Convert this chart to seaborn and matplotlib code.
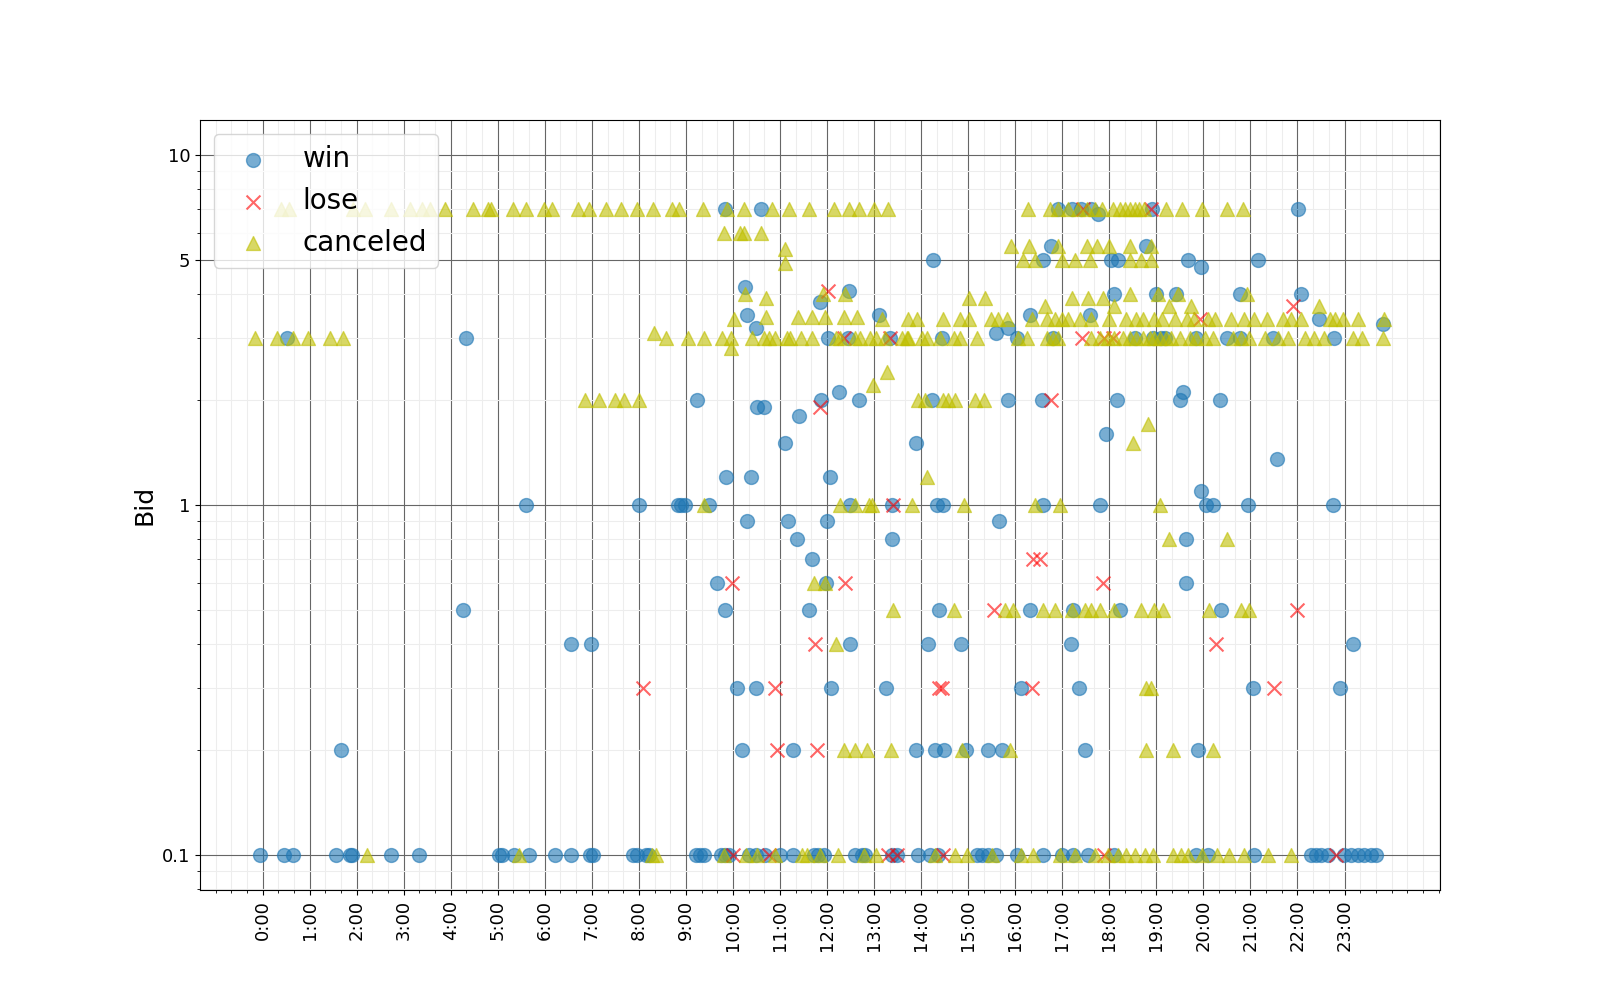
import numpy as np
import pandas as pd
import matplotlib
matplotlib.use("Agg")
import matplotlib.pyplot as plt
import seaborn as sns
from matplotlib.ticker import MultipleLocator, LogLocator, NullFormatter

# (hour of day, bid)
win = [
    (0.52, 3), (-0.05, 0.1), (0.45, 0.1), (0.64, 0.1),
    (1.67, 0.2), (1.57, 0.1), (1.85, 0.1), (1.91, 0.1), (2.72, 0.1), (3.33, 0.1),
    (4.33, 3), (5.59, 1), (4.27, 0.5), (5.03, 0.1), (5.1, 0.1), (5.35, 0.1), (5.67, 0.1),
    (8.0, 1), (6.55, 0.4), (6.98, 0.4), (6.21, 0.1), (6.55, 0.1), (6.96, 0.1), (7.02, 0.1),
    (7.88, 0.1), (7.95, 0.1), (8.15, 0.1), (8.22, 0.1),
    (9.83, 7), (10.59, 7), (10.26, 4.2), (10.29, 3.5), (10.5, 3.2), (9.23, 2), (10.52, 1.9),
    (10.66, 1.9), (9.86, 1.2), (10.38, 1.2), (8.84, 1), (8.9, 1), (8.99, 1), (9.5, 1),
    (10.3, 0.9), (9.65, 0.6), (9.82, 0.5), (10.08, 0.3), (10.48, 0.3), (10.2, 0.2),
    (9.21, 0.1), (9.3, 0.1), (9.38, 0.1), (9.74, 0.1), (9.82, 0.1), (9.91, 0.1),
    (10.34, 0.1), (10.48, 0.1), (10.69, 0.1),
    (12.46, 4.1), (11.84, 3.8), (13.1, 3.5), (12.02, 3), (12.45, 3), (12.26, 2.1),
    (12.67, 2), (11.88, 2), (11.4, 1.8), (11.11, 1.5), (12.06, 1.2), (12.48, 1),
    (11.17, 0.9), (12.0, 0.9), (11.37, 0.8), (11.68, 0.7), (11.98, 0.6), (11.61, 0.5),
    (12.48, 0.4), (12.08, 0.3), (11.27, 0.2),
    (11.0, 0.1), (11.27, 0.1), (11.72, 0.1), (11.81, 0.1), (11.93, 0.1), (12.6, 0.1),
    (12.74, 0.1), (12.81, 0.1),
    (14.26, 5), (13.34, 3), (14.44, 3), (14.23, 2), (13.89, 1.5),
    (13.37, 1), (14.33, 1), (14.47, 1), (13.37, 0.8), (14.39, 0.5), (14.14, 0.4),
    (14.84, 0.4), (13.25, 0.3), (13.89, 0.2), (14.3, 0.2), (14.49, 0.2), (14.95, 0.2),
    (15.42, 0.2), (13.37, 0.1), (13.48, 0.1), (13.94, 0.1), (14.19, 0.1), (14.35, 0.1),
    (15.18, 0.1), (15.29, 0.1), (15.43, 0.1),
    (16.9, 7), (17.2, 7), (17.4, 7), (17.62, 7), (17.77, 6.8), (16.77, 5.5), (16.6, 5),
    (16.31, 3.5), (17.59, 3.5), (15.6, 3.1), (15.84, 3.2), (16.03, 3), (16.81, 3),
    (15.84, 2), (16.56, 2), (17.93, 1.6), (16.6, 1), (17.8, 1), (15.65, 0.9),
    (16.31, 0.5), (17.23, 0.5), (17.18, 0.4), (16.12, 0.3), (17.35, 0.3),
    (15.71, 0.2), (17.48, 0.2), (15.6, 0.1), (16.03, 0.1), (16.6, 0.1), (16.99, 0.1),
    (17.23, 0.1), (17.55, 0.1),
    (18.91, 7), (18.79, 5.5), (18.04, 5), (18.18, 5), (19.67, 5), (19.94, 4.8),
    (18.11, 4), (19.0, 4), (19.41, 4), (18.54, 3), (18.93, 3), (19.1, 3), (19.18, 3),
    (19.85, 3), (18.17, 2), (19.57, 2.1), (19.5, 2), (20.35, 2), (19.94, 1.1),
    (20.06, 1), (20.2, 1), (19.64, 0.8), (19.62, 0.6), (18.22, 0.5), (20.38, 0.5),
    (19.89, 0.2), (18.11, 0.1), (19.85, 0.1), (20.1, 0.1),
    (22.01, 7), (21.16, 5), (20.77, 4), (22.08, 4), (22.45, 3.4), (20.5, 3), (20.77, 3),
    (21.47, 3), (22.78, 3), (21.57, 1.35), (20.94, 1), (22.75, 1), (21.05, 0.3),
    (21.08, 0.1), (22.29, 0.1), (22.4, 0.1), (22.5, 0.1), (22.64, 0.1),
    (23.82, 3.3), (23.19, 0.4), (22.91, 0.3), (22.99, 0.1), (23.13, 0.1), (23.28, 0.1),
    (23.42, 0.1), (23.56, 0.1), (23.67, 0.1),
]

lose = [
    (8.09, 0.3), (9.97, 0.6), (9.99, 0.1),
    (12.03, 4.1), (12.37, 3), (11.86, 1.9), (12.39, 0.6), (11.74, 0.4), (10.9, 0.3),
    (10.93, 0.2), (11.79, 0.2), (10.76, 0.1),
    (13.34, 3), (13.41, 1), (14.38, 0.3), (14.45, 0.3), (13.3, 0.1), (13.48, 0.1),
    (14.47, 0.1),
    (17.45, 7), (17.42, 3), (17.88, 3), (18.08, 3), (16.77, 2), (16.38, 0.7), (16.52, 0.7),
    (17.86, 0.6), (15.55, 0.5), (16.35, 0.3), (17.88, 0.1),
    (18.89, 7), (19.92, 3.4), (20.27, 0.4),
    (21.9, 3.7), (21.99, 0.5), (21.5, 0.3), (22.82, 0.1),
]

canceled = [
    (-0.16, 3), (0.31, 3), (0.65, 3), (0.97, 3), (1.43, 3), (1.72, 3),
    (0.4, 7), (0.57, 7), (1.93, 7), (2.18, 7), (2.74, 7), (3.13, 7), (3.38, 7), (3.56, 7),
    (3.88, 7), (2.23, 0.1),
    (4.47, 7), (4.8, 7), (4.86, 7), (5.33, 7), (5.6, 7), (5.46, 0.1),
    (5.99, 7), (6.16, 7), (6.7, 7), (6.93, 7), (7.3, 7), (7.63, 7), (7.97, 7), (8.3, 7),
    (6.85, 2), (7.16, 2), (7.49, 2), (7.69, 2), (8.0, 2), (8.33, 3.1), (8.28, 0.1), (8.36, 0.1),
    (8.71, 7), (8.85, 7), (9.37, 7), (9.88, 7), (10.23, 7),
    (9.81, 6), (10.14, 6), (10.23, 6), (10.59, 6),
    (10.26, 4.0), (10.7, 3.9), (10.02, 3.4), (10.7, 3.45),
    (8.57, 3), (9.05, 3), (9.38, 3), (9.76, 3), (9.95, 3), (10.4, 3), (10.66, 3),
    (9.95, 2.8), (9.38, 1), (9.81, 0.1), (10.27, 0.1), (10.52, 0.1),
    (10.84, 7), (11.2, 7), (11.62, 7), (12.14, 7), (12.46, 7), (12.67, 7), (12.99, 7),
    (11.11, 5.4), (11.11, 4.9), (11.91, 4.0), (12.39, 4.0),
    (11.38, 3.45), (11.68, 3.45), (11.95, 3.45), (12.37, 3.45), (12.64, 3.45),
    (10.76, 3), (10.9, 3), (11.15, 3), (11.22, 3), (11.45, 3), (11.67, 3), (12.18, 3),
    (12.28, 3), (12.6, 3), (12.71, 3), (12.92, 3), (13.03, 3),
    (12.97, 2.2), (12.28, 1), (12.6, 1), (12.89, 1), (12.96, 1),
    (11.72, 0.6), (11.95, 0.6), (12.18, 0.4), (12.37, 0.2), (12.59, 0.2), (12.85, 0.2),
    (10.9, 0.1), (11.47, 0.1), (11.57, 0.1), (11.86, 0.1), (12.23, 0.1), (12.78, 0.1),
    (13.03, 0.1),
    (13.3, 7), (15.01, 3.9), (15.35, 3.9),
    (13.16, 3.4), (13.73, 3.4), (13.91, 3.4), (14.47, 3.4), (14.83, 3.4), (15.02, 3.4),
    (15.48, 3.4),
    (13.23, 3), (13.59, 3), (13.69, 3), (13.73, 3), (14.01, 3), (14.12, 3), (14.4, 3),
    (14.69, 3), (14.83, 3), (15.18, 3),
    (13.27, 2.4), (13.94, 2), (14.08, 2), (14.47, 2), (14.58, 2), (14.72, 2), (15.15, 2),
    (15.33, 2), (14.12, 1.2), (13.8, 1), (14.92, 1), (13.41, 0.5), (14.69, 0.5),
    (13.35, 0.2), (14.86, 0.2), (14.3, 0.1), (14.71, 0.1), (14.97, 0.1),
    (16.28, 7), (16.74, 7), (16.91, 7), (17.13, 7), (17.34, 7), (17.52, 7), (17.69, 7),
    (17.84, 7),
    (15.92, 5.5), (16.29, 5.5), (16.91, 5.5), (17.52, 5.5), (17.73, 5.5),
    (16.17, 5), (16.42, 5), (16.99, 5), (17.27, 5), (17.59, 5),
    (17.2, 3.9), (17.55, 3.9), (17.87, 3.9), (16.63, 3.7),
    (15.64, 3.4), (15.82, 3.4), (16.35, 3.4), (16.67, 3.4), (16.84, 3.4),
    (16.99, 3.4), (17.13, 3.4), (17.38, 3.4), (17.62, 3.4),
    (16.06, 3), (16.24, 3), (16.67, 3), (16.81, 3), (16.91, 3), (17.62, 3), (17.8, 3),
    (16.42, 1), (16.95, 1),
    (15.78, 0.5), (15.96, 0.5), (16.6, 0.5), (16.84, 0.5), (17.2, 0.5), (17.48, 0.5),
    (17.62, 0.5), (17.8, 0.5), (15.89, 0.2),
    (15.5, 0.1), (16.13, 0.1), (16.38, 0.1), (16.95, 0.1), (17.27, 0.1), (17.69, 0.1),
    (18.08, 7), (18.22, 7), (18.33, 7), (18.43, 7), (18.54, 7), (18.64, 7), (18.74, 7),
    (19.21, 7), (19.55, 7), (19.97, 7),
    (18.0, 5.5), (18.45, 5.5), (18.89, 5.5), (18.43, 5), (18.68, 5), (18.89, 5),
    (18.43, 4), (19.03, 4), (19.45, 4), (18.11, 3.7), (19.26, 3.7), (19.73, 3.7),
    (18.0, 3.4), (18.36, 3.4), (18.57, 3.4), (18.72, 3.4), (18.96, 3.4), (19.11, 3.4),
    (19.39, 3.4), (19.66, 3.4), (19.81, 3.4), (20.1, 3.4), (20.24, 3.4),
    (17.97, 3), (18.11, 3), (18.29, 3), (18.43, 3), (18.57, 3), (18.72, 3), (18.86, 3),
    (18.96, 3), (19.07, 3), (19.21, 3), (19.32, 3), (19.5, 3), (19.71, 3), (19.85, 3),
    (20.03, 3), (20.2, 3),
    (18.82, 1.7), (18.5, 1.5), (19.07, 1), (19.26, 0.8),
    (18.11, 0.5), (18.68, 0.5), (18.96, 0.5), (19.14, 0.5), (20.13, 0.5),
    (18.79, 0.3), (18.88, 0.3), (18.77, 0.2), (19.35, 0.2), (20.2, 0.2),
    (17.97, 0.1), (18.18, 0.1), (18.36, 0.1), (18.54, 0.1), (18.75, 0.1), (18.93, 0.1),
    (19.35, 0.1), (19.53, 0.1), (19.67, 0.1), (19.96, 0.1), (20.28, 0.1),
    (20.5, 7), (20.84, 7), (20.93, 4.0), (22.45, 3.7),
    (20.59, 3.4), (20.87, 3.4), (21.08, 3.4), (21.35, 3.4), (21.69, 3.4), (21.86, 3.4),
    (22.08, 3.4), (22.7, 3.4),
    (20.62, 3), (20.8, 3), (20.98, 3), (21.3, 3), (21.58, 3), (21.79, 3), (22.15, 3),
    (22.36, 3), (22.57, 3),
    (20.5, 0.8), (20.8, 0.5), (20.98, 0.5),
    (20.55, 0.1), (20.87, 0.1), (21.37, 0.1), (21.86, 0.1),
    (22.8, 3.4), (22.96, 3.4), (23.28, 3.4), (23.84, 3.4), (23.17, 3), (23.38, 3), (23.81, 3),
]

hour_labels = [f"{h}:00" for h in range(24)]
bid_ticks = [0.1, 1, 5, 10]
bid_labels = ["0.1", "1", "5", "10"]

df_win = pd.DataFrame(win, columns=["hour", "bid"])
df_lose = pd.DataFrame(lose, columns=["hour", "bid"])
df_cancel = pd.DataFrame(canceled, columns=["hour", "bid"])

fig, ax = plt.subplots(figsize=(16, 10), dpi=100)

sns.scatterplot(data=df_win, x="hour", y="bid", ax=ax, color="tab:blue", marker="o",
                s=100, alpha=0.6, edgecolor="face", linewidth=1, label="win")
sns.scatterplot(data=df_lose, x="hour", y="bid", ax=ax, color="red", marker="x",
                s=100, alpha=0.6, linewidth=1.5, label="lose")
sns.scatterplot(data=df_cancel, x="hour", y="bid", ax=ax, color="y", marker="^",
                s=100, alpha=0.6, edgecolor="face", linewidth=1, label="canceled")

ax.set_yscale("log")
ax.set_ylim(10 ** -1.1, 10 ** 1.1)
ax.set_xlim(-1.33, 25.03)

ax.set_xticks(range(24))
ax.set_xticklabels(hour_labels, rotation=90, fontsize=13)
ax.xaxis.set_minor_locator(MultipleLocator(1 / 3))

ax.set_yticks(bid_ticks)
ax.set_yticklabels(bid_labels, fontsize=13)
ax.yaxis.set_minor_locator(LogLocator(base=10, subs=range(2, 10)))
ax.yaxis.set_minor_formatter(NullFormatter())

ax.set_axisbelow(True)
ax.grid(which="major", color="0.4", linewidth=0.8)
ax.grid(which="minor", color="0.93", linewidth=0.8)

ax.set_xlabel("")
ax.set_ylabel("Bid", fontsize=18)
ax.legend(loc="upper left", fontsize=20)

plt.savefig("out.png", dpi=100)
